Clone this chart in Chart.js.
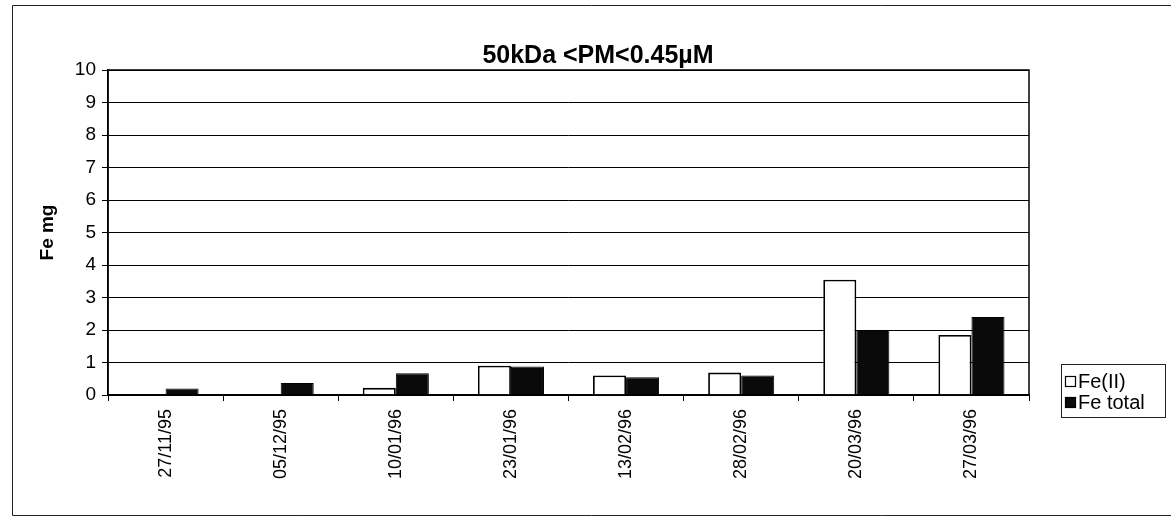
<!DOCTYPE html>
<html>
<head>
<meta charset="utf-8">
<script src="https://cdn.jsdelivr.net/npm/chart.js@4/dist/chart.umd.min.js"></script>
<style>
  html,body{margin:0;padding:0;background:#fff;}
  #wrap{position:relative;width:1171px;height:524px;}
</style>
</head>
<body>
<div id="wrap"><canvas id="feChart" width="1171" height="524"></canvas></div>
<script>
// --- Data ---
const dates = ['27/11/95','05/12/95','10/01/96','23/01/96','13/02/96','28/02/96','20/03/96','27/03/96'];
const feII = [null, null, 0.22, 0.9, 0.6, 0.69, 3.55, 1.85];
const feTotal = [0.2, 0.37, 0.67, 0.88, 0.55, 0.6, 2.0, 2.4];
const yTicks = [0,1,2,3,4,5,6,7,8,9,10];
const chartTitle = '50kDa <PM<0.45\u00b5M';

const FONT = 'Arial, "Liberation Sans", sans-serif';

// frame + plot border + title + legend drawn on top
const decor = {
  id:'decor',
  afterDraw(chart){
    const c = chart.ctx, a = chart.chartArea;
    c.save();
    // outer frame
    c.strokeStyle='#222'; c.lineWidth=1;
    c.beginPath();
    c.moveTo(1171,5.5); c.lineTo(12.5,5.5); c.lineTo(12.5,515.5); c.lineTo(1171,515.5);
    c.stroke();
    // plot border
    c.strokeStyle='#000'; c.lineWidth=1.5;
    c.strokeRect(a.left, a.top, a.right-a.left, a.bottom-a.top);
    // title
    c.fillStyle='#000';
    c.font='bold 25px '+FONT;
    c.textAlign='center'; c.textBaseline='middle';
    c.fillText(chartTitle, 598, 56);
    // legend
    c.lineWidth=1; c.strokeStyle='#222';
    c.strokeRect(1061.5, 364.5, 104, 53);
    c.font='20px '+FONT; c.textAlign='left';
    chart.data.datasets.forEach((ds,i)=>{
      const y = 381 + i*21;
      c.fillStyle = ds.backgroundColor;
      c.fillRect(1065, y-5, 11, 11);
      c.strokeStyle='#000'; c.lineWidth=1.2;
      c.strokeRect(1065.5, y-4.5, 10, 10);
      c.fillStyle='#000';
      c.fillText(ds.label, 1078, y+1);
    });
    c.restore();
  }
};

new Chart(document.getElementById('feChart'), {
  type:'bar',
  data:{
    labels: dates,
    datasets:[
      {label:'Fe(II)', data: feII, backgroundColor:'#ffffff', borderColor:'#000', borderWidth:1.8},
      {label:'Fe total', data: feTotal, backgroundColor:'#0a0a0a', borderColor:'#000', borderWidth:1}
    ]
  },
  options:{
    responsive:false,
    animation:false,
    layout:{padding:{left:0, right:142, top:70, bottom:0}},
    datasets:{bar:{categoryPercentage:0.574, barPercentage:1}},
    plugins:{legend:{display:false}, title:{display:false}, tooltip:{enabled:false}},
    scales:{
      x:{
        grid:{display:true, drawOnChartArea:false, offset:true, color:'#000', tickLength:6, lineWidth:1},
        border:{display:true, color:'#000', width:1.5},
        ticks:{color:'#000', font:{family:FONT, size:18}, minRotation:90, maxRotation:90, padding:8},
        afterFit(s){ s.height = 129; }
      },
      y:{
        min:0, max:10,
        afterBuildTicks(s){ s.ticks = yTicks.map(v=>({value:v})); },
        grid:{color:'#000', lineWidth:1, tickLength:6},
        border:{display:true, color:'#000', width:1.5},
        ticks:{color:'#000', font:{family:FONT, size:19}, padding:6},
        title:{display:true, text:'Fe mg', color:'#000', font:{family:FONT, size:19, weight:'bold'}, padding:{top:36}},
        afterFit(s){ s.width = 108; }
      }
    }
  },
  plugins:[decor]
});
</script>
</body>
</html>
